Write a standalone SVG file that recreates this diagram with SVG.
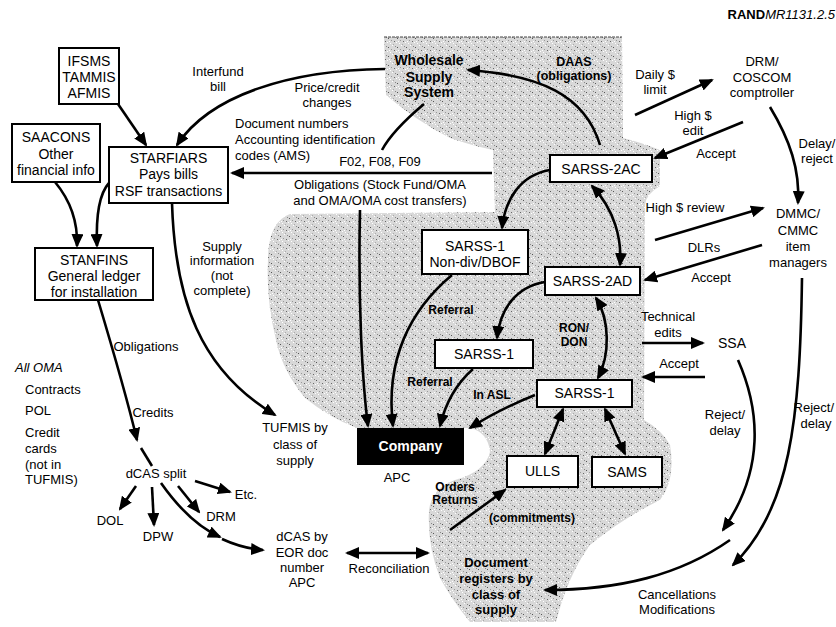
<svg xmlns="http://www.w3.org/2000/svg" width="836" height="627" viewBox="0 0 836 627">
<style>
text{font-family:"Liberation Sans",Arial,Helvetica,sans-serif;fill:#000}
.l{font-size:13px;text-anchor:middle}
.ll{font-size:13px}
.b{font-size:14px;text-anchor:middle}
.bb{font-weight:bold;text-anchor:middle}
.box{fill:#fff;stroke:#000;stroke-width:2}
.c{fill:none;stroke:#000;stroke-width:2.6}
.a{marker-end:url(#ah)}
.d{marker-start:url(#ah);marker-end:url(#ah)}
</style>
<defs>
<pattern id="stip" width="9" height="9" patternUnits="userSpaceOnUse">
<rect width="9" height="9" fill="#d8d8d8"/>
<rect x="1" y="2" width="1" height="1" fill="#555"/>
<rect x="5" y="0" width="1" height="1" fill="#fff"/>
<rect x="7" y="5" width="1" height="1" fill="#666"/>
<rect x="3" y="7" width="1" height="1" fill="#fff"/>
<rect x="4" y="4" width="1" height="1" fill="#999"/>
<rect x="0" y="6" width="1" height="1" fill="#fff"/>
<rect x="8" y="1" width="1" height="1" fill="#888"/>
<rect x="6" y="8" width="1" height="1" fill="#aaa"/>
<rect x="2" y="5" width="1" height="1" fill="#fff"/>
</pattern>
<marker id="ah" viewBox="0 0 14 12" refX="12" refY="6" markerWidth="14" markerHeight="12" markerUnits="userSpaceOnUse" orient="auto-start-reverse">
<path d="M0,0 L14,6 L0,12 z" fill="#000"/>
</marker>
</defs>
<rect width="836" height="627" fill="#fff"/>

<g id="shade">
<path d="M384,37 L622,37 L623,138 Q640,142 660,150 L660,186 Q646,194 645,205 L644,420 Q662,430 670,445 Q676,480 660,500 Q620,520 590,545 Q568,575 556,622 L470,622 Q452,600 440,578 Q427,545 429,510 Q432,488 455,480 Q485,472 490,452 Q488,432 470,428 L357,428 Q330,418 305,398 Q282,370 276,340 Q266,300 268,260 Q268,222 290,214 L495,212 L493,150 Q470,145 450,138 Q415,120 386,95 Z" fill="url(#stip)"/>
<line x1="384" y1="37" x2="622" y2="37" stroke="#444" stroke-width="1" stroke-dasharray="3,1"/>
</g>

<g id="connectors">
<path class="c a" d="M118,104 L146,145"/>
<path class="c a" d="M385,69 C290,70 210,95 177,145"/>
<path class="c" d="M424,104 C405,120 390,135 382,150"/>
<path class="c a" d="M492,173 L232,173"/>
<path class="c a" d="M600,145 C585,95 540,75 468,70"/>
<path class="c a" d="M635,115 L712,80"/>
<path class="c a" d="M743,122 L655,158"/>
<path class="c a" d="M770,107 C790,140 800,170 798,203"/>
<path class="c a" d="M655,240 L763,208"/>
<path class="c a" d="M762,245 L645,280"/>
<path class="c a" d="M642,343 L703,343"/>
<path class="c a" d="M705,377 L643,377"/>
<path class="c a" d="M738,360 C760,410 765,470 723,530"/>
<path class="c a" d="M802,278 C800,420 790,510 733,565"/>
<path class="c a" d="M730,540 C680,575 620,590 545,590"/>
<path class="c a" d="M550,170 C520,175 505,200 502,228"/>
<path class="c d" d="M592,186 C615,210 622,240 620,265"/>
<path class="c a" d="M545,282 C515,287 500,310 497,338"/>
<path class="c d" d="M596,298 C610,320 610,355 598,378"/>
<path class="c a" d="M452,275 C410,310 385,360 393,426"/>
<path class="c a" d="M473,369 C455,385 445,405 440,426"/>
<path class="c a" d="M535,395 C510,405 490,415 470,428"/>
<path class="c a" d="M360,210 C358,300 362,380 368,426"/>
<path class="c d" d="M563,409 L545,454"/>
<path class="c d" d="M605,409 L625,454"/>
<path class="c a" d="M450,530 L505,490"/>
<path class="c d" d="M347,553 L428,553"/>
<path class="c a" d="M55,182 C70,200 78,220 77,246"/>
<path class="c a" d="M109,183 C98,195 96,220 97,246"/>
<path class="c a" d="M172,203 C175,300 200,370 275,415"/>
<path class="c a" d="M98,300 C110,340 125,390 137,440"/>
<path class="c" d="M141,448 L152,466"/>
<path class="c a" d="M136,486 L120,509"/>
<path class="c a" d="M152,487 L154,525"/>
<path class="c a" d="M178,486 L199,512"/>
<path class="c a" d="M195,481 L230,492"/>
<path class="c a" d="M161,483 C180,510 200,528 220,537"/>
<path class="c a" d="M222,539 C235,545 250,549 263,550"/>
</g>

<g id="ifsms"><rect class="box" x="59" y="48" width="60" height="56"/>
<text class="b" x="89" y="66">IFSMS</text><text class="b" x="89" y="82">TAMMIS</text><text class="b" x="89" y="98">AFMIS</text></g>
<g id="saacons"><rect class="box" x="12" y="124" width="88" height="58"/>
<text class="b" x="56" y="142">SAACONS</text><text class="b" x="56" y="159">Other</text><text class="b" x="56" y="175">financial info</text></g>
<g id="starfiars"><rect class="box" x="109" y="147" width="119" height="56"/>
<text class="b" x="168.5" y="163">STARFIARS</text><text class="b" x="168.5" y="179">Pays bills</text><text class="b" x="168.5" y="196">RSF transactions</text></g>
<g id="stanfins"><rect class="box" x="35" y="248" width="118" height="52"/>
<text class="b" x="94" y="265">STANFINS</text><text class="b" x="94" y="281">General ledger</text><text class="b" x="94" y="297">for installation</text></g>
<g id="wholesale"><text class="bb" font-size="14" x="429" y="65">Wholesale</text><text class="bb" font-size="14" x="429" y="82">Supply</text><text class="bb" font-size="14" x="429" y="97">System</text></g>
<g id="sarss2ac"><rect class="box" x="550" y="155" width="102" height="27"/><text class="b" x="601" y="174">SARSS-2AC</text></g>
<g id="sarss1nondiv"><rect class="box" x="422" y="230" width="106" height="44"/>
<text class="b" x="475" y="251">SARSS-1</text><text class="b" x="475" y="267">Non-div/DBOF</text></g>
<g id="sarss2ad"><rect class="box" x="545" y="267" width="95" height="28"/><text class="b" x="592.5" y="286">SARSS-2AD</text></g>
<g id="sarss1mid"><rect class="box" x="435" y="340" width="98" height="28"/><text class="b" x="484" y="359">SARSS-1</text></g>
<g id="sarss1asl"><rect class="box" x="537" y="380" width="95" height="27"/><text class="b" x="584.5" y="398">SARSS-1</text></g>
<g id="ulls"><rect class="box" x="507" y="456" width="71" height="31"/><text class="b" x="542.5" y="476">ULLS</text></g>
<g id="sams"><rect class="box" x="592" y="457" width="70" height="30"/><text class="b" x="627" y="477">SAMS</text></g>
<g id="company"><rect x="357" y="428" width="107" height="37" fill="#000"/>
<text class="bb" font-size="14" x="410.5" y="451" style="fill:#fff">Company</text>
<text class="l" x="397" y="482">APC</text></g>
<g id="drm"><text class="l" x="762" y="66">DRM/</text><text class="l" x="762" y="82">COSCOM</text><text class="l" x="762" y="97">comptroller</text></g>
<g id="dmmc"><text class="l" x="798" y="218">DMMC/</text><text class="l" x="798" y="235">CMMC</text><text class="l" x="798" y="251">item</text><text class="l" x="798" y="267">managers</text></g>
<g id="ssa"><text class="b" x="732" y="348">SSA</text></g>
<g id="tufmis"><text class="l" x="295" y="432">TUFMIS by</text><text class="l" x="295" y="449">class of</text><text class="l" x="295" y="465">supply</text></g>
<g id="dcassplit"><text class="l" x="156" y="478">dCAS split</text></g>
<g id="dol"><text class="l" x="110" y="525">DOL</text></g>
<g id="dpw"><text class="l" x="158" y="541">DPW</text></g>
<g id="drm2"><text class="l" x="221" y="521">DRM</text></g>
<g id="etc"><text class="l" x="246" y="499">Etc.</text></g>
<g id="dcaseor"><text class="l" x="302" y="541">dCAS by</text><text class="l" x="302" y="557">EOR doc</text><text class="l" x="302" y="572">number</text><text class="l" x="302" y="587">APC</text></g>
<g id="docreg"><text class="bb" font-size="13" x="496" y="567">Document</text><text class="bb" font-size="13" x="496" y="583">registers by</text><text class="bb" font-size="13" x="496" y="599">class of</text><text class="bb" font-size="13" x="496" y="614">supply</text></g>
<g id="allOMA"><text class="ll" x="15" y="372" font-style="italic">All OMA</text>
<text class="ll" x="25" y="394">Contracts</text><text class="ll" x="25" y="415">POL</text><text class="ll" x="25" y="437">Credit</text><text class="ll" x="25" y="453">cards</text><text class="ll" x="25" y="469">(not in</text><text class="ll" x="25" y="484">TUFMIS)</text></g>

<g id="labels">
<text x="835" y="19" font-size="13" text-anchor="end"><tspan font-weight="bold">RAND</tspan><tspan font-style="italic">MR1131.2.5</tspan></text>
<text class="l" x="218" y="76">Interfund</text><text class="l" x="218" y="91">bill</text>
<text class="l" x="327" y="92">Price/credit</text><text class="l" x="327" y="107">changes</text>
<text class="ll" x="235" y="128">Document numbers</text><text class="ll" x="235" y="144">Accounting identification</text><text class="ll" x="235" y="160">codes (AMS)</text>
<text class="l" x="380" y="166">F02, F08, F09</text>
<text class="l" x="380" y="189">Obligations (Stock Fund/OMA</text><text class="l" x="380" y="205">and OMA/OMA cost transfers)</text>
<text class="bb" font-size="12.5" x="574" y="66">DAAS</text><text class="bb" font-size="12.5" x="574" y="80">(obligations)</text>
<text class="l" x="655" y="79">Daily $</text><text class="l" x="655" y="94">limit</text>
<text class="l" x="693" y="120">High $</text><text class="l" x="693" y="135">edit</text>
<text class="l" x="716" y="158">Accept</text>
<text class="l" x="817" y="148">Delay/</text><text class="l" x="817" y="163">reject</text>
<text class="l" x="685" y="212">High $ review</text>
<text class="l" x="704" y="252">DLRs</text><text class="l" x="711" y="282">Accept</text>
<text class="l" x="668" y="321">Technical</text><text class="l" x="668" y="337">edits</text>
<text class="l" x="679" y="368">Accept</text>
<text class="l" x="725" y="419">Reject/</text><text class="l" x="725" y="435">delay</text>
<text class="ll" x="834" y="412" text-anchor="end">Reject/</text><text class="l" x="816" y="428">delay</text>
<text class="l" x="677" y="599">Cancellations</text><text class="l" x="677" y="614">Modifications</text>
<text class="l" x="222" y="251" font-size="12.5">Supply</text><text class="l" x="222" y="265" font-size="12.5">information</text><text class="l" x="222" y="280" font-size="12.5">(not</text><text class="l" x="222" y="295" font-size="12.5">complete)</text>
<text class="l" x="146" y="351">Obligations</text>
<text class="l" x="153" y="417">Credits</text>
<text class="l" x="389" y="573">Reconciliation</text>
<text class="bb" font-size="12" x="451" y="314">Referral</text>
<text class="bb" font-size="12" x="430" y="386">Referral</text>
<text class="bb" font-size="12" x="492" y="399">In ASL</text>
<text class="bb" font-size="12" x="574" y="332">RON/</text><text class="bb" font-size="12" x="574" y="346">DON</text>
<text class="bb" font-size="12" x="455" y="491">Orders</text><text class="bb" font-size="12" x="455" y="504">Returns</text>
<text class="bb" font-size="12" x="532" y="522">(commitments)</text>
</g>
</svg>
